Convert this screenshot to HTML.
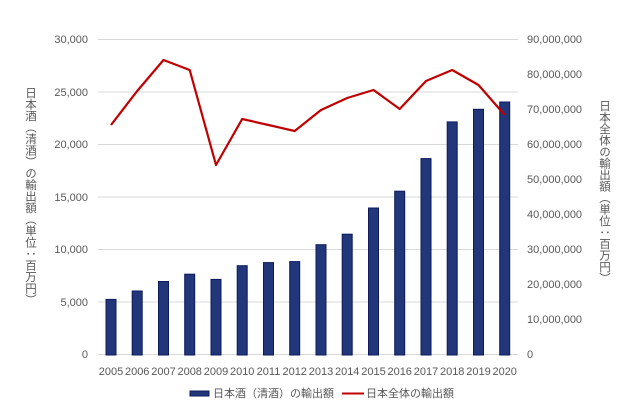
<!DOCTYPE html>
<html><head><meta charset="utf-8"><style>
body{margin:0;background:#fff;position:relative;width:630px;height:410px;overflow:hidden}
svg text{font-family:"Liberation Sans","Noto Sans CJK JP",sans-serif;fill:#595959;font-size:11px}
.vt{position:absolute;writing-mode:vertical-rl;font-family:"Liberation Sans","Noto Sans CJK JP",sans-serif;color:#595959;font-size:11.5px;line-height:14px;white-space:nowrap}
</style></head><body>
<svg width="630" height="410" xmlns="http://www.w3.org/2000/svg" style="position:absolute;left:0;top:0">
<rect width="630" height="410" fill="#fff"/>
<g stroke="#d9d9d9" stroke-width="1">
<line x1="98" x2="518" y1="39.5" y2="39.5"/><line x1="98" x2="518" y1="92" y2="92"/>
<line x1="98" x2="518" y1="144.5" y2="144.5"/><line x1="98" x2="518" y1="197" y2="197"/>
<line x1="98" x2="518" y1="249.5" y2="249.5"/><line x1="98" x2="518" y1="302" y2="302"/>
<line x1="98" x2="518" y1="354.5" y2="354.5"/>
</g>
<g text-anchor="end">
<text x="88" y="43">30,000</text><text x="88" y="96">25,000</text><text x="88" y="148">20,000</text>
<text x="88" y="201">15,000</text><text x="88" y="253">10,000</text><text x="88" y="306">5,000</text><text x="88" y="358">0</text>
</g>
<g text-anchor="start">
<text x="527" y="43">90,000,000</text>
<text x="527" y="78">80,000,000</text>
<text x="527" y="113">70,000,000</text>
<text x="527" y="148">60,000,000</text>
<text x="527" y="183">50,000,000</text>
<text x="527" y="218">40,000,000</text>
<text x="527" y="253">30,000,000</text>
<text x="527" y="288">20,000,000</text>
<text x="527" y="323">10,000,000</text>
<text x="527" y="358">0</text>
</g>
<g fill="#22367a" stroke="#0d1a5e" stroke-width="1">
<rect x="106" y="299.4" width="10" height="55.6"/>
<rect x="132.2" y="291" width="10" height="64"/>
<rect x="158.5" y="281.5" width="10" height="73.5"/>
<rect x="184.7" y="274.2" width="10" height="80.8"/>
<rect x="211" y="279.4" width="10" height="75.6"/>
<rect x="237.2" y="265.7" width="10" height="89.3"/>
<rect x="263.5" y="262.6" width="10" height="92.4"/>
<rect x="289.7" y="261.6" width="10" height="93.4"/>
<rect x="316" y="244.7" width="10" height="110.3"/>
<rect x="342.2" y="234.2" width="10" height="120.8"/>
<rect x="368.5" y="208" width="10" height="147"/>
<rect x="394.7" y="191.2" width="10" height="163.8"/>
<rect x="421" y="158.6" width="10" height="196.4"/>
<rect x="447.2" y="121.9" width="10" height="233.1"/>
<rect x="473.5" y="109.3" width="10" height="245.7"/>
<rect x="499.7" y="102" width="10" height="253"/>
</g>
<polyline fill="none" stroke="#c00000" stroke-width="2.2" stroke-linejoin="round" points="111,125 137.2,91 163.5,60 189.7,70 216,165 242.2,119 268.5,125 294.7,131 321,110 347.2,98 373.5,90 399.7,109 426,81 452.2,70 478.5,85 504.7,115"/>
<g text-anchor="middle" font-size="11">
<text x="111" y="375">2005</text><text x="137.2" y="375">2006</text><text x="163.5" y="375">2007</text><text x="189.7" y="375">2008</text>
<text x="216" y="375">2009</text><text x="242.2" y="375">2010</text><text x="268.5" y="375">2011</text><text x="294.7" y="375">2012</text>
<text x="321" y="375">2013</text><text x="347.2" y="375">2014</text><text x="373.5" y="375">2015</text><text x="399.7" y="375">2016</text>
<text x="426" y="375">2017</text><text x="452.2" y="375">2018</text><text x="478.5" y="375">2019</text><text x="504.7" y="375">2020</text>
</g>
<rect x="190" y="391" width="19" height="5" fill="#22367a" stroke="#0d1a5e"/>
<text x="213" y="397">日本酒（清酒）の輸出額</text>
<line x1="342" x2="364" y1="393.5" y2="393.5" stroke="#c00000" stroke-width="2"/>
<text x="366" y="397">日本全体の輸出額</text>
</svg>
<div class="vt" style="left:23px;top:87px">日本酒（清酒）の輸出額（単位：百万円）</div>
<div class="vt" style="left:597px;top:100px">日本全体の輸出額（単位：百万円）</div>
</body></html>
